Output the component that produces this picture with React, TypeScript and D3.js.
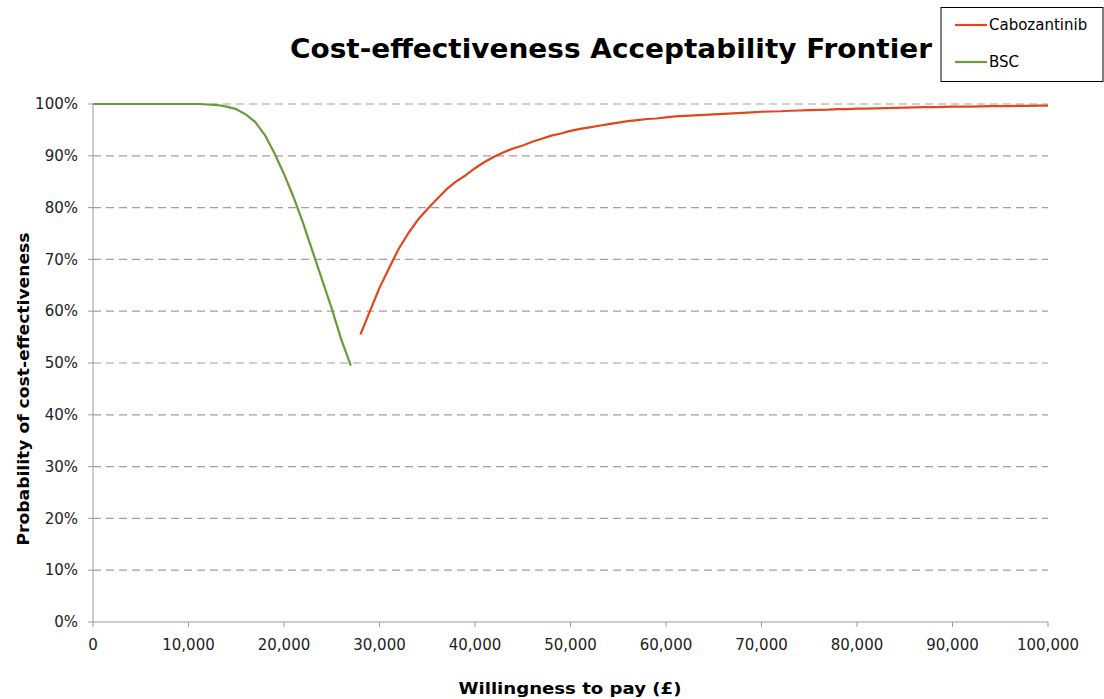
import React from "react";
import * as d3 from "d3";

const bscWtp = [0, 1000, 2000, 3000, 4000, 5000, 6000, 7000, 8000, 9000, 10000, 11000, 12000, 13000, 14000, 15000, 16000, 17000, 18000, 19000, 20000, 21000, 22000, 23000, 24000, 25000, 26000, 27000];
const bscProb = [100, 100, 100, 100, 100, 100, 100, 100, 100, 100, 100, 100, 99.9, 99.8, 99.5, 99, 98, 96.5, 94, 90.5, 86.5, 82, 77, 71.5, 66, 60.5, 54.5, 49.5];

const caboWtp = [28000, 29000, 30000, 31000, 32000, 33000, 34000, 35000, 36000, 37000, 38000, 39000, 40000, 41000, 42000, 43000, 44000, 45000, 46000, 47000, 48000, 49000, 50000, 51000, 52000, 53000, 54000, 55000, 56000, 57000, 58000, 59000, 60000, 61000, 62000, 63000, 64000, 65000, 66000, 67000, 68000, 69000, 70000, 71000, 72000, 73000, 74000, 75000, 76000, 77000, 78000, 79000, 80000, 81000, 82000, 83000, 84000, 85000, 86000, 87000, 88000, 89000, 90000, 91000, 92000, 93000, 94000, 95000, 96000, 97000, 98000, 99000, 100000];
const caboProb = [55.5, 60, 64.5, 68.3, 72, 75, 77.6, 79.7, 81.6, 83.5, 85, 86.2, 87.6, 88.8, 89.8, 90.7, 91.4, 92, 92.7, 93.3, 93.9, 94.3, 94.8, 95.2, 95.5, 95.8, 96.1, 96.4, 96.7, 96.9, 97.1, 97.2, 97.4, 97.6, 97.7, 97.8, 97.9, 98.0, 98.1, 98.2, 98.3, 98.4, 98.5, 98.55, 98.6, 98.7, 98.75, 98.8, 98.85, 98.9, 99.0, 99.0, 99.1, 99.1, 99.15, 99.2, 99.25, 99.3, 99.35, 99.4, 99.4, 99.45, 99.5, 99.5, 99.5, 99.55, 99.6, 99.6, 99.6, 99.65, 99.65, 99.7, 99.7];

const xTicks = [0, 10000, 20000, 30000, 40000, 50000, 60000, 70000, 80000, 90000, 100000];
const yTicks = [0, 10, 20, 30, 40, 50, 60, 70, 80, 90, 100];

const seriesNames = ["Cabozantinib", "BSC"];
const colors = ["#e2461c", "#6a9a3a"];

const FONT = "'DejaVu Sans', Verdana, sans-serif";

export default function App() {
  const W = 1104, H = 699;
  const x = d3.scaleLinear().domain([0, 100000]).range([93, 1048]);
  const y = d3.scaleLinear().domain([0, 100]).range([622, 104]);
  const line = d3.line<[number, number]>().x(d => x(d[0])).y(d => y(d[1]));
  const bsc = bscWtp.map((v, i) => [v, bscProb[i]] as [number, number]);
  const cabo = caboWtp.map((v, i) => [v, caboProb[i]] as [number, number]);
  const fmt = d3.format(",");
  const axisColor = "#9a9a9a";

  return (
    <svg width={W} height={H} style={{ position: "absolute", left: 0, top: 0, background: "#fff" }} fontFamily={FONT}>
      <rect x={0} y={0} width={W} height={H} fill="#fff" />
      {yTicks.filter(t => t > 0).map(t => (
        <line key={"g" + t} x1={x(0)} x2={x(100000)} y1={y(t)} y2={y(t)} stroke="#a0a0a0" strokeWidth={1.2} strokeDasharray="8,5" />
      ))}
      <line x1={x(0)} x2={x(0)} y1={y(100)} y2={y(0)} stroke={axisColor} strokeWidth={1} />
      <line x1={x(0)} x2={x(100000)} y1={y(0)} y2={y(0)} stroke={axisColor} strokeWidth={1} />
      {yTicks.map(t => (
        <g key={"y" + t}>
          <line x1={x(0) - 5} x2={x(0)} y1={y(t)} y2={y(t)} stroke={axisColor} />
          <text x={78} y={y(t)} dy="0.35em" textAnchor="end" fontSize={15} fill="#222">{t + "%"}</text>
        </g>
      ))}
      {xTicks.map(t => (
        <g key={"x" + t}>
          <line x1={x(t)} x2={x(t)} y1={y(0)} y2={y(0) + 5} stroke={axisColor} />
          <text x={x(t)} y={650} textAnchor="middle" fontSize={15} fill="#222">{fmt(t)}</text>
        </g>
      ))}
      <path d={line(bsc) || ""} fill="none" stroke={colors[1]} strokeWidth={2.2} strokeLinejoin="round" />
      <path d={line(cabo) || ""} fill="none" stroke={colors[0]} strokeWidth={2.2} strokeLinejoin="round" />
      <text x={611} y={58} textAnchor="middle" fontSize={26} fontWeight="bold" fill="#000" textLength={642} lengthAdjust="spacingAndGlyphs">Cost-effectiveness Acceptability Frontier</text>
      <text transform={`translate(29,389) rotate(-90)`} textAnchor="middle" fontSize={16} fontWeight="bold" fill="#000" textLength={313} lengthAdjust="spacingAndGlyphs">Probability of cost-effectiveness</text>
      <text x={570} y={694} textAnchor="middle" fontSize={16} fontWeight="bold" fill="#000" textLength={223} lengthAdjust="spacingAndGlyphs">Willingness to pay (£)</text>
      <rect x={941} y={7.5} width={162} height={74} fill="#fff" stroke="#000" strokeWidth={1} />
      {seriesNames.map((n, i) => (
        <g key={n}>
          <line x1={955} x2={987} y1={25 + i * 37} y2={25 + i * 37} stroke={colors[i]} strokeWidth={2.2} />
          <text x={989} y={25 + i * 37} dy="0.35em" fontSize={15} fill="#000">{n}</text>
        </g>
      ))}
    </svg>
  );
}
